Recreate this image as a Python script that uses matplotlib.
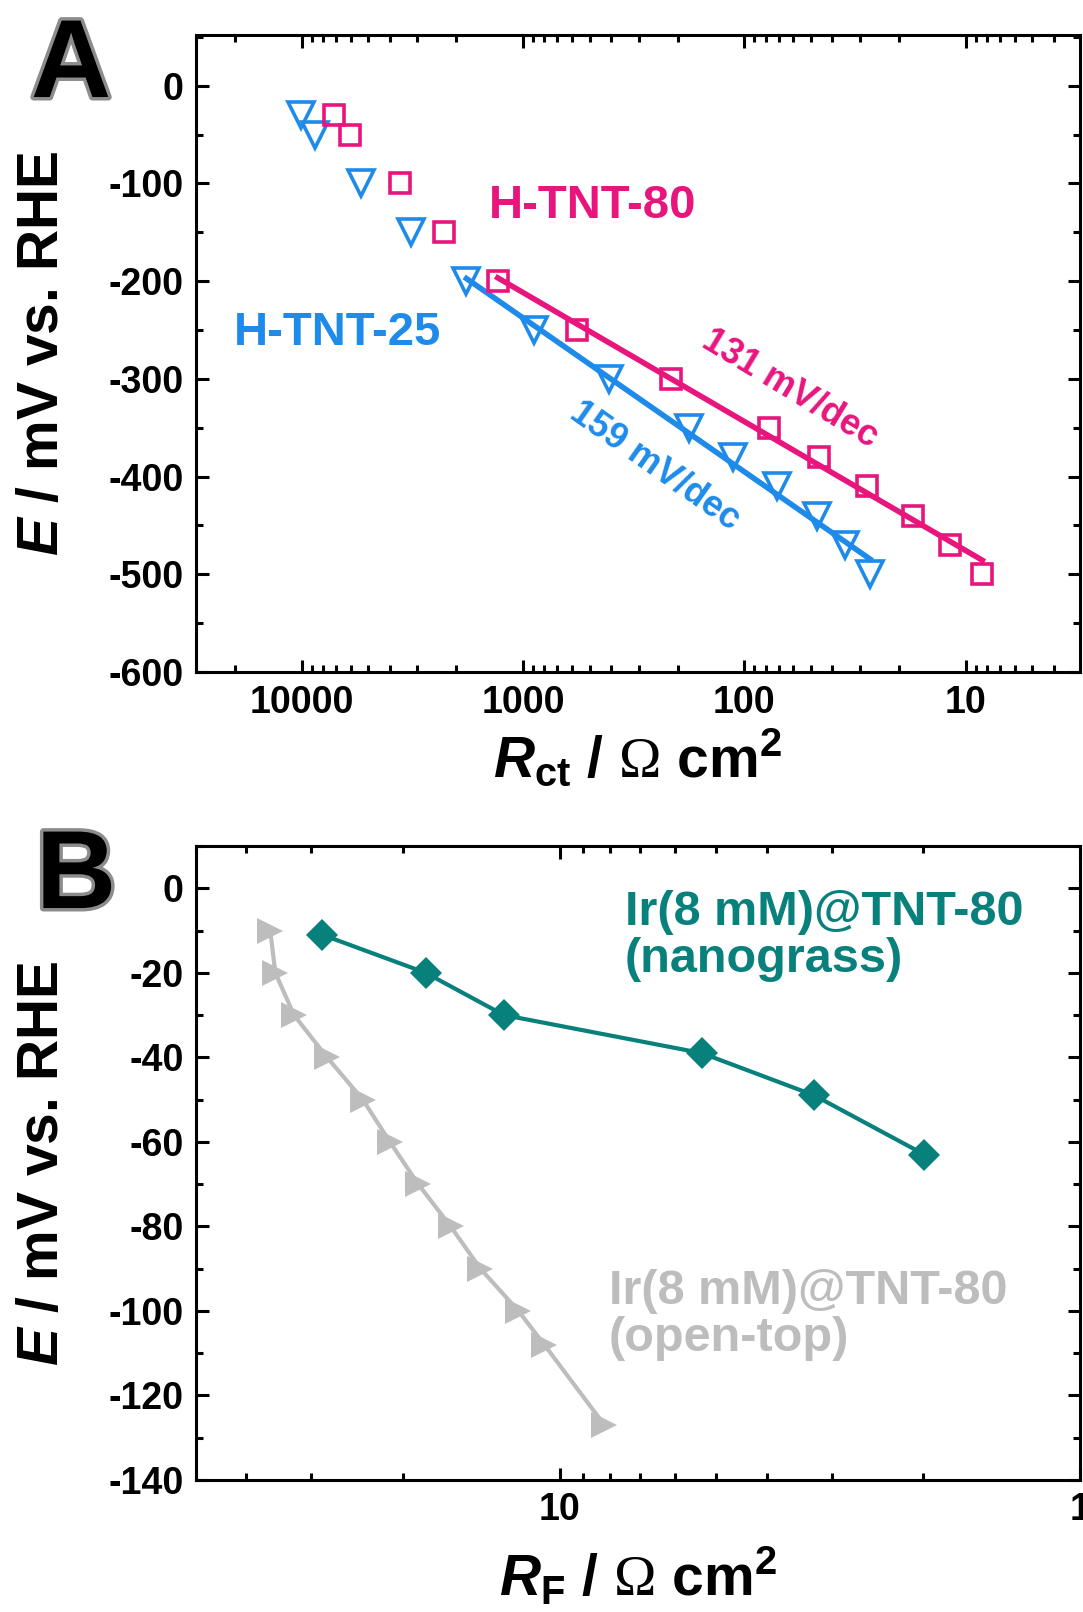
import numpy as np
import matplotlib
matplotlib.use('Agg')
import matplotlib.pyplot as plt
import matplotlib.ticker as ticker
import matplotlib.patheffects as pe

PINK = '#E8157D'
BLUE = '#1E8BEB'
TEAL = '#08807B'
GREY = '#BDBDBD'

# ----- panel A: E vs R_ct -----
E_A = [-30, -50, -100, -150, -200, -250, -300, -350, -380, -410, -440, -470, -500]
RCT_25 = [10100, 8700, 5400, 3200, 1800, 890, 410, 178, 112, 71, 47, 35, 27]
RCT_80 = [7130, 6050, 3600, 2280, 1300, 567, 214, 77, 46, 28, 17.2, 11.8, 8.4]
FIT_FROM = 4  # Tafel fit uses the points from -200 mV on

# ----- panel B: E vs R_F -----
E_OPEN = [-10, -20, -30, -40, -50, -60, -70, -80, -90, -100, -108, -127]
RF_OPEN = [36.0, 35.2, 32.4, 28.0, 23.9, 21.2, 18.7, 16.2, 14.2, 12.0, 10.7, 8.2]
E_GRASS = [-11, -20, -30, -39, -49, -63]
RF_GRASS = [28.6, 18.1, 12.8, 5.33, 3.24, 1.99]

plt.rcParams.update({
    'font.family': 'Liberation Sans',
    'font.weight': 'bold',
    'axes.labelweight': 'bold',
    'axes.unicode_minus': False,
    'mathtext.fontset': 'custom',
    'mathtext.rm': 'Liberation Sans:bold',
    'mathtext.it': 'Liberation Sans:italic:bold',
    'mathtext.bf': 'Liberation Sans:bold',
    'mathtext.sf': 'Liberation Serif:weight=normal',
    'axes.linewidth': 2.2,
})

TICK_SIZE = 27
LABEL_SIZE = 41


def style_axis(ax, ymajor, yminor):
    ax.set_xscale('log')
    ax.tick_params(which='both', direction='in', top=True, right=True,
                   width=2.2, labelsize=TICK_SIZE, pad=9)
    ax.tick_params(which='major', length=9)
    ax.tick_params(which='minor', length=5)
    ax.xaxis.set_major_locator(ticker.LogLocator(base=10, numticks=10))
    ax.xaxis.set_minor_locator(ticker.LogLocator(base=10, subs=np.arange(2, 10), numticks=20))
    ax.xaxis.set_major_formatter(ticker.FuncFormatter(lambda v, p: f'{v:g}'))
    ax.xaxis.set_minor_formatter(ticker.NullFormatter())
    ax.yaxis.set_major_locator(ticker.MultipleLocator(ymajor))
    ax.yaxis.set_minor_locator(ticker.MultipleLocator(yminor))
    ax.set_ylabel(r'$\mathit{E}$ / mV vs. RHE', fontsize=LABEL_SIZE)
    ax.yaxis.set_label_coords(-0.1425, 0.5)


def tafel_line(ax, x, y, color):
    lx = np.log10(x[FIT_FROM:])
    k, b = np.polyfit(lx, y[FIT_FROM:], 1)
    xs = np.array([x[FIT_FROM], x[-1]])
    ax.plot(xs, k * np.log10(xs) + b, color=color, lw=4, zorder=2)


fig = plt.figure(figsize=(10.83, 16.12), dpi=100)

# ---------------- A ----------------
ax = fig.add_axes([0.181, 0.5831, 0.816, 0.3952])
style_axis(ax, 100, 50)
tafel_line(ax, RCT_25, E_A, BLUE)
tafel_line(ax, RCT_80, E_A, PINK)
ax.plot(RCT_25, E_A, 'v', mfc='none', mec=BLUE, mew=2.6, ms=19, zorder=3)
ax.plot(RCT_80, E_A, 's', mfc='none', mec=PINK, mew=2.6, ms=15, zorder=3)
ax.set_xlim(30000, 3.05)
ax.set_ylim(-600, 52)
ax.set_xlabel(r'$\mathit{R}_{\mathrm{ct}}$ / $\mathsf{\Omega}$ cm$^{\mathrm{2}}$',
              fontsize=LABEL_SIZE, va='top')
ax.xaxis.set_label_coords(0.5, -0.086)

ax.text(0.331, 0.713, 'H-TNT-80', transform=ax.transAxes, color=PINK,
        fontsize=34, ha='left', va='baseline')
ax.text(0.043, 0.513, 'H-TNT-25', transform=ax.transAxes, color=BLUE,
        fontsize=34, ha='left', va='baseline')
ax.text(0.672, 0.445, '131 mV/dec', transform=ax.transAxes, color=PINK,
        fontsize=26, ha='center', va='center', rotation=-31)
ax.text(0.520, 0.324, '159 mV/dec', transform=ax.transAxes, color=BLUE,
        fontsize=26, ha='center', va='center', rotation=-35)

# ---------------- B ----------------
bx = fig.add_axes([0.181, 0.0819, 0.816, 0.3933])
style_axis(bx, 20, 10)
bx.plot(RF_OPEN, E_OPEN, '>-', color=GREY, lw=3, ms=19, mew=0, zorder=2)
bx.plot(RF_GRASS, E_GRASS, 'D-', color=TEAL, lw=3, ms=16, mew=0, zorder=3)
bx.set_xlim(50, 1)
bx.set_ylim(-140, 10)
bx.set_xlabel(r'$\mathit{R}_{\mathrm{F}}$ / $\mathsf{\Omega}$ cm$^{\mathrm{2}}$',
              fontsize=LABEL_SIZE, va='top')
bx.xaxis.set_label_coords(0.5, -0.103)

bx.text(0.485, 0.93, 'Ir(8 mM)@TNT-80\n(nanograss)', transform=bx.transAxes,
        color=TEAL, fontsize=35, ha='left', va='top', linespacing=1.05)
bx.text(0.467, 0.332, 'Ir(8 mM)@TNT-80\n(open-top)', transform=bx.transAxes,
        color=GREY, fontsize=35, ha='left', va='top', linespacing=1.05)

# panel letters
outline = [pe.withStroke(linewidth=5, foreground='#8c8c8c')]
fig.text(0.0286, 0.9398, 'A', fontsize=80, fontweight='bold', va='baseline',
         path_effects=outline)
fig.text(0.0332, 0.4367, 'B', fontsize=80, fontweight='bold', va='baseline',
         path_effects=outline)

fig.savefig('out.png', dpi=100)
